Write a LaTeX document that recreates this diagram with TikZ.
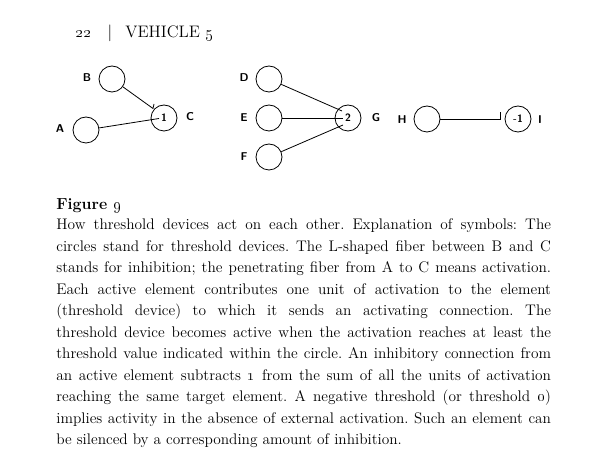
\documentclass[tikz,border=0pt]{standalone}

\tikzset{every picture/.style={line width=0.6pt}}
\tikzset{
  unit/.style={circle,draw,minimum size=19.5pt,inner sep=0pt,font=\fontsize{8}{9}\sffamily\bfseries},
  lab/.style={inner sep=0pt,font=\fontsize{8.5}{10}\sffamily\bfseries},
  head/.style={anchor=base west,inner sep=0pt,font=\fontsize{12.5}{14}\selectfont}
}

\begin{document}
\begin{tikzpicture}[x=0.75pt,y=0.75pt,yscale=-1]
    \useasboundingbox (0,0) rectangle (600,473);

    % running head
    \node [head] (page) at (75,37.5) {\oldstylenums{22}};
    \node [head,anchor=base] (bar) at (110,37.5) {\textbar};
    \node [head] (title) at (125,37.5) {VEHICLE};
    \node [head] (vnum) at (205.5,37.5) {\oldstylenums{5}};

    % threshold devices
    \node [unit] (A) at (86,130) {};
    \node [unit] (B) at (112,79) {};
    \node [unit] (C) at (164,118) {1};
    \node [unit] (D) at (269,79) {};
    \node [unit] (E) at (269,118) {};
    \node [unit] (F) at (269,157) {};
    \node [unit] (G) at (348,118) {2};
    \node [unit] (H) at (427,119) {};
    \node [unit] (I) at (518,119) {-1};

    \node [lab] (labA) at (60,129) {A};
    \node [lab] (labB) at (87,78) {B};
    \node [lab] (labC) at (190,117) {C};
    \node [lab] (labD) at (244,78) {D};
    \node [lab] (labE) at (244,118) {E};
    \node [lab] (labF) at (244,157) {F};
    \node [lab] (labG) at (376,118) {G};
    \node [lab] (labH) at (402,120) {H};
    \node [lab] (labI) at (540,120) {I};

    % fibers
    \coordinate (inAC) at (159,118.5);
    \coordinate (endBC) at (153,108.5);
    \coordinate (inDG) at (342,111);
    \coordinate (inEG) at (343,118);
    \coordinate (inFG) at (343,125);
    \coordinate (endHI) at (500,119);
    \draw (A) -- (inAC);
    \draw (B) -- (endBC) -- ++(1,-4.5);
    \draw (D) -- (inDG);
    \draw (E) -- (inEG);
    \draw (F) -- (inFG);
    \draw (H) -- (endHI) -- ++(0,-6.5);

    % caption
    \node [anchor=base west,inner sep=0pt,font=\fontsize{12}{14}\bfseries] (figtitle) at (56,210) {Figure \oldstylenums{9}};
    \node [anchor=base west,inner sep=0pt] (caption) at (56,230) {\parbox[t]{371pt}{\fontsize{11.5}{16.1}\selectfont\frenchspacing
    How threshold devices act on each other. Explanation of symbols: The\linebreak
    circles stand for threshold devices. The L-shaped fiber between B and C\linebreak
    stands for inhibition; the penetrating fiber from A to C means activation.\linebreak
    Each active element contributes one unit of activation to the element\linebreak
    (threshold device) to which it sends an activating connection. The\linebreak
    threshold device becomes active when the activation reaches at least the\linebreak
    threshold value indicated within the circle. An inhibitory connection from\linebreak
    an active element subtracts \oldstylenums{1} from the sum of all the units of activation\linebreak
    reaching the same target element. A negative threshold (or threshold \oldstylenums{0})\linebreak
    implies activity in the absence of external activation. Such an element can\linebreak
    be silenced by a corresponding amount of inhibition.}};

\end{tikzpicture}
\end{document}
